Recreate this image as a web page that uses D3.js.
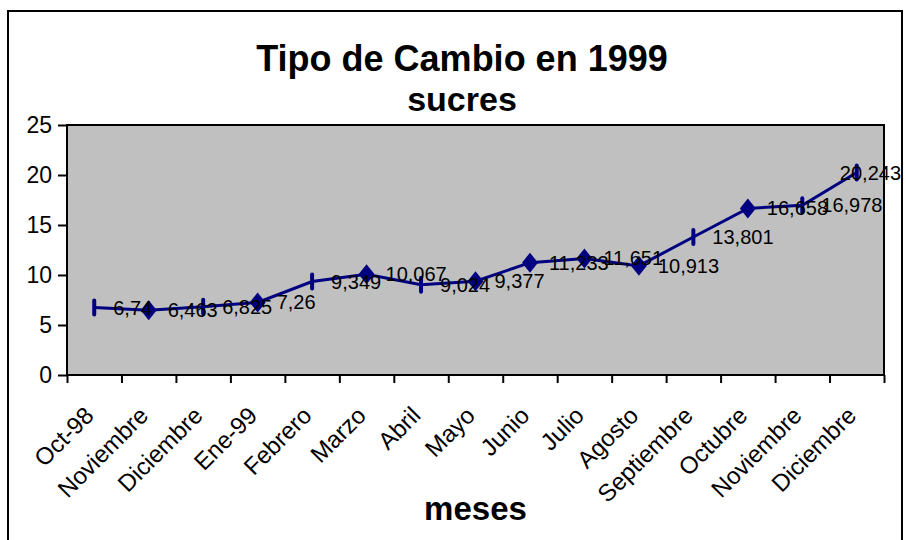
<!DOCTYPE html>
<html>
<head>
<meta charset="utf-8">
<script src="https://cdn.jsdelivr.net/npm/d3@7"></script>
<style>
	body { margin: 0; background: #fff; }
	svg { display: block; font-family: "Liberation Sans", Arial, sans-serif; }
	.axis path, .axis line { stroke: #000; stroke-width: 2; }
</style>
</head>
<body>
<div id="chart"></div>
<script>
// data
var months = ["Oct-98", "Noviembre", "Diciembre", "Ene-99", "Febrero", "Marzo", "Abril", "Mayo",
	"Junio", "Julio", "Agosto", "Septiembre", "Octubre", "Noviembre", "Diciembre"];
var rates = [6.74, 6.463, 6.825, 7.26, 9.349, 10.067, 9.024, 9.377,
	11.233, 11.651, 10.913, 13.801, 16.658, 16.978, 20.243];
var rateLabels = ["6,74", "6,463", "6,825", "7,26", "9,349", "10,067", "9,024", "9,377",
	"11,233", "11,651", "10,913", "13,801", "16,658", "16,978", "20,243"];
var markers = ["dash", "diamond", "dash", "diamond", "dash", "diamond", "dash", "diamond",
	"diamond", "diamond", "diamond", "dash", "diamond", "dash", "dash"];
var yTicks = [0, 5, 10, 15, 20, 25];

var W = 906, H = 540;
var margin = { top: 125, right: 22, bottom: 165, left: 67 };
var width = W - margin.left - margin.right;
var height = H - margin.top - margin.bottom;
var navy = "#000080";

var svg = d3.select("#chart").append("svg")
	.attr("width", W)
	.attr("height", H);

// chart frame
svg.append("rect")
	.attr("x", 8).attr("y", 11)
	.attr("width", 894).attr("height", 560)
	.attr("fill", "none").attr("stroke", "#000").attr("stroke-width", 2);

// titles
svg.append("text")
	.attr("x", 462).attr("y", 71)
	.attr("text-anchor", "middle")
	.style("font-size", "36px").style("font-weight", "bold")
	.text("Tipo de Cambio en 1999");
svg.append("text")
	.attr("x", 462).attr("y", 111)
	.attr("text-anchor", "middle")
	.style("font-size", "34px").style("font-weight", "bold")
	.text("sucres");

var g = svg.append("g")
	.attr("transform", "translate(" + margin.left + "," + margin.top + ")");

// scales
var x = d3.scaleLinear().domain([0, months.length]).range([0, width]);
var y = d3.scaleLinear().domain([0, 25]).range([height, 0]);

// plot area
g.append("rect")
	.attr("width", width).attr("height", height)
	.attr("fill", "#c0c0c0").attr("stroke", "#000").attr("stroke-width", 2);

// y axis
var yAxis = g.append("g").attr("class", "axis")
	.call(d3.axisLeft(y).tickValues(yTicks).tickSize(9).tickPadding(6).tickFormat(d3.format("d")));
yAxis.select(".domain").remove();
yAxis.selectAll("text").style("font-size", "23px").attr("fill", "#000");

// x axis, ticks at category boundaries
var xAxis = g.append("g").attr("class", "axis")
	.attr("transform", "translate(0," + height + ")")
	.call(d3.axisBottom(x).tickValues(d3.range(months.length + 1)).tickSize(8).tickFormat(""));
xAxis.select(".domain").remove();

g.selectAll(".month")
	.data(months)
	.enter()
	.append("text")
	.attr("class", "month")
	.attr("transform", (d, i) => "translate(" + (x(i + 0.5) + 1) + "," + (height + 42) + ") rotate(-45)")
	.attr("text-anchor", "end")
	.style("font-size", "24px")
	.text((d) => d);

// x title
svg.append("text")
	.attr("x", margin.left + width / 2).attr("y", 520)
	.attr("text-anchor", "middle")
	.style("font-size", "33px").style("font-weight", "bold")
	.text("meses");

// line
var line = d3.line()
	.x((d, i) => x(i + 0.5))
	.y((d) => y(d));

g.append("path")
	.datum(rates)
	.attr("d", line)
	.attr("fill", "none")
	.attr("stroke", navy)
	.attr("stroke-width", 3);

// markers
var pts = g.selectAll(".pt")
	.data(rates)
	.enter()
	.append("g")
	.attr("class", "pt")
	.attr("transform", (d, i) => "translate(" + x(i + 0.5) + "," + y(d) + ")");

pts.filter((d, i) => markers[i] == "diamond")
	.append("path")
	.attr("d", "M0,-10L8,0L0,10L-8,0Z")
	.attr("fill", navy);

pts.filter((d, i) => markers[i] == "dash")
	.append("rect")
	.attr("x", -2).attr("y", -9)
	.attr("width", 4).attr("height", 18)
	.attr("rx", 2)
	.attr("fill", navy);

// data labels, to the right of each point, kept inside the frame
g.selectAll(".lbl")
	.data(rates)
	.enter()
	.append("text")
	.attr("class", "lbl")
	.attr("x", (d, i) => x(i + 0.5) + 19)
	.attr("y", (d) => y(d))
	.attr("dy", "0.35em")
	.style("font-size", "20px")
	.text((d, i) => rateLabels[i])
	.each(function (d, i) {
		var w = this.getComputedTextLength();
		var maxX = 901 - margin.left;
		var x0 = x(i + 0.5) + 19;
		if (x0 + w > maxX) d3.select(this).attr("x", maxX - w);
	});
</script>
</body>
</html>
